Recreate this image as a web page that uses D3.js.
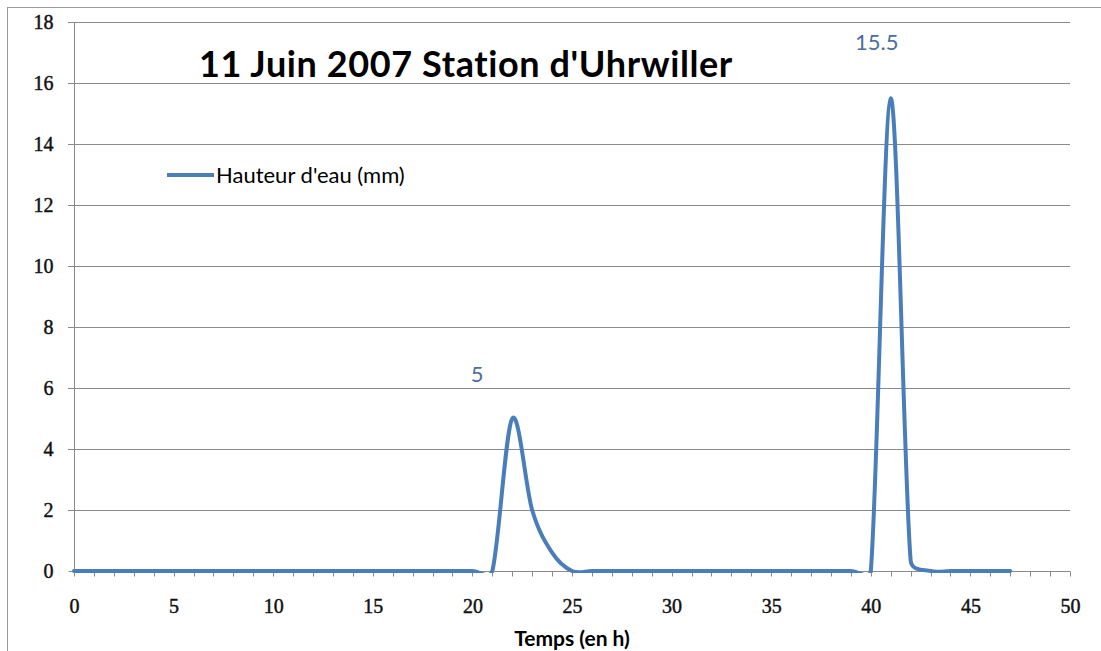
<!DOCTYPE html>
<html><head><meta charset="utf-8">
<script src="https://cdn.jsdelivr.net/npm/d3@7"></script>
<style>
html,body{margin:0;padding:0;background:#fff;}
svg{display:block;}
</style></head>
<body>
<svg id="chart" width="1101" height="651"></svg>
<script>
// ---- data ----
const hours = [0,1,2,3,4,5,6,7,8,9,10,11,12,13,14,15,16,17,18,19,20,21,22,23,24,25,26,27,28,29,30,31,32,33,34,35,36,37,38,39,40,41,42,43,44,45,46,47];
const hauteur = [0,0,0,0,0,0,0,0,0,0,0,0,0,0,0,0,0,0,0,0,0,0,5,2,0.6,0,0,0,0,0,0,0,0,0,0,0,0,0,0,0,0,15.5,0.35,0,0,0,0,0];
const xTicks = [0,5,10,15,20,25,30,35,40,45,50];
const yTicks = [0,2,4,6,8,10,12,14,16,18];
const labelHours = [22, 41];
const labelValues = [5, 15.5];
const labelTexts = ["5", "15.5"];
const title = "11 Juin 2007 Station d'Uhrwiller";
const seriesName = "Hauteur d'eau (mm)";
const xTitle = "Temps (en h)";

// label placement (pixels, layout only)
const labelOffsets = [[-35,-37],[-14,-48]];

const svg = d3.select("#chart");
const x = d3.scaleLinear().domain([0,50]).range([74,1070]);
const y = d3.scaleLinear().domain([0,18]).range([571,22]);
const gridColor = "#8a8a8a";
const lineColor = "#4A7EBB";
const tickFont = "'Liberation Serif', 'DejaVu Serif', serif";
const textFont = "Lato, 'Open Sans', sans-serif";

// outer border
svg.append("rect").attr("x",7.5).attr("y",7.5).attr("width",1110).attr("height",700)
  .attr("fill","none").attr("stroke","#9a9a9a").attr("stroke-width",1);

// gridlines
svg.append("g").selectAll("line").data(yTicks.filter(d=>d>0)).join("line")
  .attr("x1",68).attr("x2",1070)
  .attr("y1",d=>Math.round(y(d))+0.5).attr("y2",d=>Math.round(y(d))+0.5)
  .attr("stroke",gridColor).attr("stroke-width",1);

// y axis
const yAxis = d3.axisLeft(y).tickValues(yTicks).tickSize(6).tickPadding(15).tickFormat(d3.format("d"));
const gy = svg.append("g").attr("transform","translate(74.5,0)").call(yAxis);
gy.select(".domain").attr("stroke",gridColor).attr("d","M0,22V571.5");
gy.selectAll(".tick line").attr("stroke",gridColor);
gy.selectAll(".tick text").attr("font-family",tickFont).attr("font-size",20).attr("fill","#111")
  .attr("stroke","#111").attr("stroke-width",0.45);

// x axis (minor ticks every hour)
const xMinor = d3.range(0,51);
const gxm = svg.append("g").attr("transform","translate(0,571.5)");
gxm.append("line").attr("x1",74).attr("x2",1070).attr("stroke",gridColor);
gxm.selectAll("line.t").data(xMinor).join("line").attr("class","t")
  .attr("x1",d=>Math.round(x(d))+0.5).attr("x2",d=>Math.round(x(d))+0.5)
  .attr("y1",0).attr("y2",5).attr("stroke",gridColor);
const xAxis = d3.axisBottom(x).tickValues(xTicks).tickSize(0).tickPadding(27).tickFormat(d3.format("d"));
const gx = svg.append("g").attr("transform","translate(0,571.5)").call(xAxis);
gx.select(".domain").remove();
gx.selectAll(".tick text").attr("font-family",tickFont).attr("font-size",20).attr("fill","#111")
  .attr("stroke","#111").attr("stroke-width",0.45);

// Excel-like smoothed curve
function ExcelCurve(ctx){ this._context = ctx; }
ExcelCurve.prototype = {
  areaStart(){}, areaEnd(){},
  lineStart(){ this._pts = []; },
  point(px,py){ this._pts.push([+px,+py]); },
  lineEnd(){
    const p = this._pts, c = this._context, n = p.length;
    if (!n) return;
    const dist = (a,b)=>Math.hypot(a[0]-b[0],a[1]-b[1]);
    c.moveTo(p[0][0],p[0][1]);
    for (let i=0;i<n-1;i++){
      const p0=p[Math.max(0,i-1)], p1=p[i], p2=p[i+1], p3=p[Math.min(n-1,i+2)];
      const d02=dist(p0,p2), d12=dist(p1,p2), d13=dist(p1,p3);
      let f=1/6, g=1/6;
      if (d02>0 && d02/6 > d12/2) f = d12/(2*d02);
      if (d13>0 && d13/6 > d12/2) g = d12/(2*d13);
      c.bezierCurveTo(p1[0]+f*(p2[0]-p0[0]), p1[1]+f*(p2[1]-p0[1]),
                      p2[0]-g*(p3[0]-p1[0]), p2[1]-g*(p3[1]-p1[1]),
                      p2[0], p2[1]);
    }
  }
};
const curveExcel = ctx => new ExcelCurve(ctx);

svg.append("defs").append("clipPath").attr("id","plotClip")
  .append("rect").attr("x",72).attr("y",20).attr("width",1000).attr("height",553);

const data = hours.map((h,i)=>({h, v:hauteur[i]}));
const line = d3.line().x(d=>x(d.h)).y(d=>y(d.v)).curve(curveExcel);
svg.append("path").datum(data).attr("clip-path","url(#plotClip)")
  .attr("d",line).attr("fill","none").attr("stroke",lineColor)
  .attr("stroke-width",4).attr("stroke-linejoin","round").attr("stroke-linecap","round");

// data labels
const labels = labelHours.map((h,i)=>({h, v:labelValues[i], text:labelTexts[i], off:labelOffsets[i]}));
svg.append("g").selectAll("text").data(labels).join("text")
  .attr("x",d=>x(d.h)+d.off[0]).attr("y",d=>y(d.v)+d.off[1])
  .attr("text-anchor","middle").attr("font-family",textFont).attr("font-size",22)
  .attr("fill","#4A6E9E").text(d=>d.text);

// title
svg.append("text").attr("x",466).attr("y",77).attr("text-anchor","middle")
  .attr("font-family",textFont).attr("font-weight","bold").attr("font-size",36)
  .attr("letter-spacing",0.6).attr("fill","#000").text(title);

// legend
svg.append("line").attr("x1",167).attr("x2",214).attr("y1",175).attr("y2",175)
  .attr("stroke",lineColor).attr("stroke-width",4);
svg.append("text").attr("x",216).attr("y",183).attr("font-family",textFont)
  .attr("font-size",22).attr("fill","#000").text(seriesName);

// x title
svg.append("text").attr("x",572).attr("y",646).attr("text-anchor","middle")
  .attr("font-family",textFont).attr("font-weight","bold").attr("font-size",21)
  .attr("fill","#000").text(xTitle);
</script>
</body></html>
